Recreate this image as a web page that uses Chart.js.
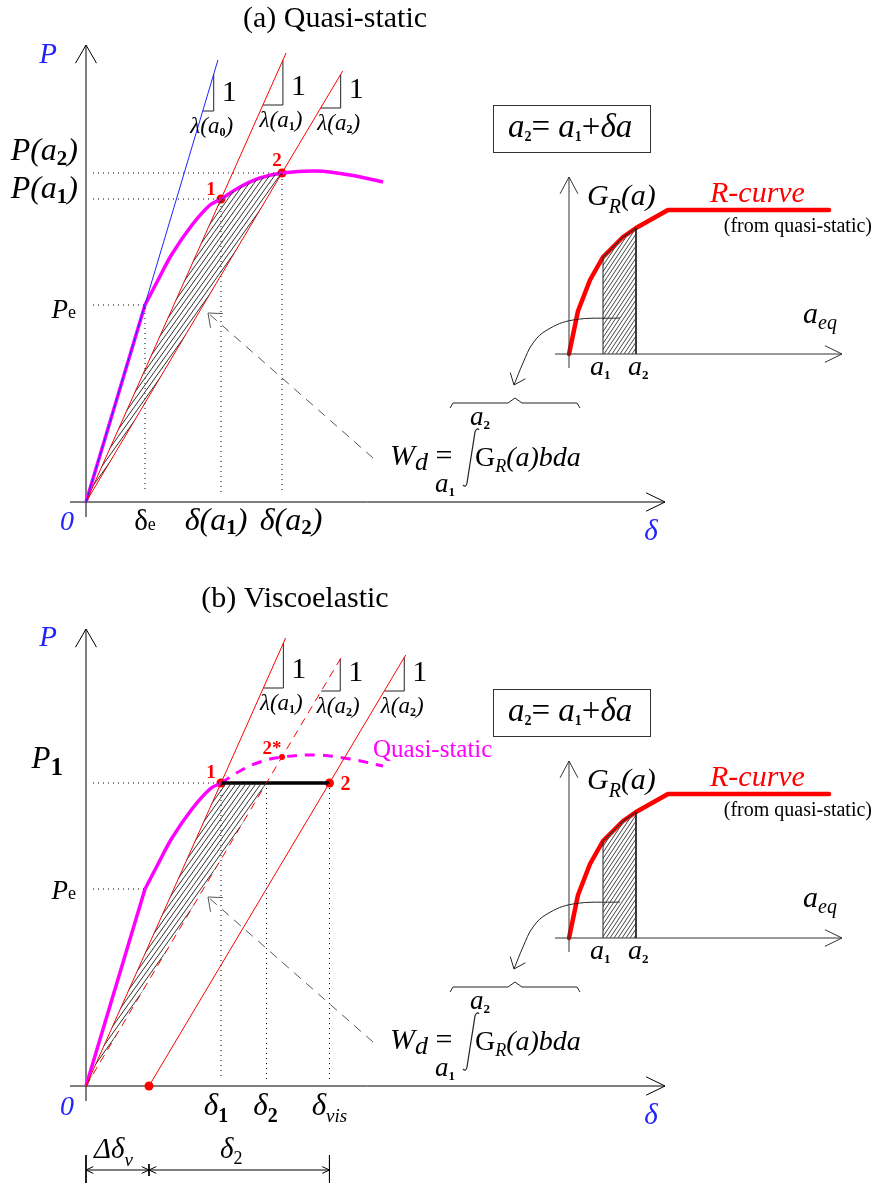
<!DOCTYPE html>
<html>
<head>
<meta charset="utf-8">
<title>Quasi-static and viscoelastic R-curve sketch</title>
<script src="https://cdn.jsdelivr.net/npm/chart.js@4.4.1/dist/chart.umd.min.js"></script>
<style>
  html, body { margin: 0; padding: 0; background: #fff; }
  body { width: 877px; height: 1184px; position: relative; overflow: hidden; }
  canvas { position: absolute; left: 0; }
  #panelA { top: 0; }
  #panelB { top: 575px; }
</style>
</head>
<body>
<canvas id="panelA" width="877" height="575"></canvas>
<canvas id="panelB" width="877" height="609"></canvas>
<script>
// ---------- values (arbitrary units) ----------
// quasi-static load-displacement curve
const qsDelta = [0, 0.59, 0.71, 0.86, 1.06, 1.24, 1.35, 1.54, 1.74, 1.96, 2.31, 2.64, 2.97];
const qsLoad  = [0, 1.97, 2.20, 2.48, 2.77, 2.97, 3.03, 3.15, 3.24, 3.29, 3.31, 3.27, 3.20];
const iPe = 1, i1 = 6, i2 = 9;   // Pe, point 1, point 2 (2*)

// unloading stiffness 1/lambda for a0, a1, a2 and where each line stops
const stiffness = [3.35, 2.244, 1.679];
const lineTopA = [4.42, 4.49, 4.31];
const lineTopB = [4.48, 4.31, 4.31];

// slope triangles: base load and horizontal leg
const triLoadA = [3.91, 3.97, 3.94];
const triRunA  = [0.11, 0.20, 0.20];
const triSubA  = ['0', '1', '2'];
const triLoadB = [3.98, 3.95, 3.95];
const triRunB  = [0.20, 0.19, 0.20];
const triSubB  = ['1', '2', '2'];

// viscoelastic shift of the last unloading line
const deltaV = 0.63;
const dimLoad = -0.84;

// axis extents of the main plots
const axisDelta = [-0.16, 5.79];
const axisLoad  = [-0.15, 4.57];
const guideStart = 0.07;
const guideEndA = 0.10, guideEndB = 0.06;

// dashed pointer from formula to hatched area
const pointerDelta = [2.87, 1.22];
const pointerLoad  = [0.44, 1.89];

// R-curve inset (a_eq, G_R)
const rcA = [0, 0.9, 2.1, 3.4, 5.4, 6.7, 9.9, 26];
const rcG = [0, 4.3, 7.4, 9.7, 11.7, 12.6, 14.4, 14.4];
const ia1 = 3, ia2 = 5;
const insetAxisA = [-1.4, 27.3];
const insetAxisG = [-1.4, 17.7];

// curved pointer and brace (inset units)
const curveA = [5.1, 0.4, -2.2, -3.6, -4.6, -5.5];
const curveG = [3.6, 3.4, 2.4, 1.1, -0.9, -3.1];
const braceA = [-11.9, -11.6, -6.1, -5.4, -4.7, 0.8, 1.1];
const braceG = [-5.4, -4.9, -4.9, -4.4, -4.9, -4.9, -5.4];

// derived points
const delta2 = qsLoad[i1] / stiffness[2];          // on dashed line a2 at P1
const deltaVis = deltaV + qsLoad[i1] / stiffness[2];

// ---------- helpers ----------
const BLUE = '#2222ff', RED = '#ff0000', MAG = '#ff00ff';
const SERIF = '"Liberation Serif", "Times New Roman", serif';
const f = (size, style) => `${style || ''} ${size}px ${SERIF}`;
const T = (t, font, dy, color) => ({ t, font, dy, color });

function rich(ctx, x, y, parts, align) {
  let w = 0;
  parts.forEach(p => { ctx.font = p.font; w += ctx.measureText(p.t).width; });
  let cx = align === 'center' ? x - w / 2 : align === 'right' ? x - w : x;
  parts.forEach(p => {
    ctx.font = p.font;
    ctx.fillStyle = p.color || '#000';
    ctx.fillText(p.t, cx, y + (p.dy || 0));
    cx += ctx.measureText(p.t).width;
  });
}

const xy = (xs, ys) => xs.map((x, i) => ({ x, y: ys[i] }));
function path(xs, ys, color, width, opts) {
  return Object.assign({
    data: xy(xs, ys), showLine: true, borderColor: color, borderWidth: width,
    pointRadius: 0, pointHoverRadius: 0, fill: false, tension: 0
  }, opts || {});
}
const inset = d => Object.assign(d, { xAxisID: 'xi', yAxisID: 'yi' });

function arrowHead(tx, ty, fx, fy, len, deg) {
  const a = Math.atan2(fy - ty, fx - tx), r = deg * Math.PI / 180;
  return [
    [tx + len * Math.cos(a + r), tx, tx + len * Math.cos(a - r)],
    [ty + len * Math.sin(a + r), ty, ty + len * Math.sin(a - r)]
  ];
}

function hatch(w, h, color, lw) {
  const c = document.createElement('canvas');
  c.width = w; c.height = h;
  const g = c.getContext('2d');
  g.strokeStyle = color; g.lineWidth = lw;
  g.beginPath();
  for (let k = -1; k <= 1; k++) { g.moveTo(k * w, h); g.lineTo(k * w + w, 0); }
  g.stroke();
  return g.createPattern(c, 'repeat');
}

// ---------- datasets ----------
function mainAxes() {
  const yh = arrowHead(0, axisLoad[1], 0, 0, 0.21, 30);
  const xh = arrowHead(axisDelta[1], 0, 0, 0, 0.21, 26);
  return [
    path([0, 0], axisLoad, '#000', 1),
    path(yh[0], yh[1], '#000', 1),
    path(axisDelta, [0, 0], '#000', 1),
    path(xh[0], xh[1], '#000', 1)
  ];
}

function pointer() {
  const h = arrowHead(pointerDelta[1], pointerLoad[1], pointerDelta[0], pointerLoad[0], 0.15, 39);
  return [
    path(pointerDelta, pointerLoad, '#555', 1, { borderDash: [9, 7] }),
    path(h[0], h[1], '#555', 1)
  ];
}

function triangles(load, run, tops) {
  return stiffness.map((k, i) => {
    const shift = tops[i];
    const d0 = shift + load[i] / k, d1 = d0 + run[i];
    return path([d0, d1, d1], [load[i], load[i], k * (d1 - shift)], '#222', 1);
  });
}

function insetDatasets(pat) {
  const hx = [rcA[ia1], ...rcA.slice(ia1, ia2 + 1), rcA[ia2]];
  const hy = [0, ...rcG.slice(ia1, ia2 + 1), 0];
  const yh = arrowHead(0, insetAxisG[1], 0, 0, 1.9, 28);
  const xh = arrowHead(insetAxisA[1], 0, 0, 0, 1.9, 26);
  const ch = arrowHead(curveA[5], curveG[5], curveA[4], curveG[4], 1.3, 39);
  return [
    inset(path(hx, hy, '#222', 1, { fill: 'shape', backgroundColor: pat })),
    inset(path([0, 0], insetAxisG, '#333', 1)),
    inset(path(yh[0], yh[1], '#333', 1)),
    inset(path(insetAxisA, [0, 0], '#333', 1)),
    inset(path(xh[0], xh[1], '#333', 1)),
    inset(path(curveA, curveG, '#222', 1, { tension: 0.4 })),
    inset(path(ch[0], ch[1], '#222', 1)),
    inset(path(braceA, braceG, '#222', 1)),
    inset(path(rcA, rcG, RED, 4.5, { borderJoinStyle: 'round', borderCapStyle: 'round' }))
  ];
}

function panelADatasets(patMain, patInset) {
  const dot = { borderDash: [1, 4] };
  const ds = [];
  ds.push(path([0, ...qsDelta.slice(i1, i2 + 1), 0], [0, ...qsLoad.slice(i1, i2 + 1), 0],
    'rgba(0,0,0,0)', 0, { fill: 'shape', backgroundColor: patMain }));
  [iPe, i1, i2].forEach(i => ds.push(path([guideStart, qsDelta[i], qsDelta[i]],
    [qsLoad[i], qsLoad[i], guideEndA], '#000', 1, dot)));
  const colors = [BLUE, RED, RED];
  stiffness.forEach((k, i) => ds.push(path([0, lineTopA[i] / k], [0, lineTopA[i]], colors[i], 1)));
  ds.push(...triangles(triLoadA, triRunA, [0, 0, 0]));
  ds.push(path(qsDelta.slice(0, iPe + 1), qsLoad.slice(0, iPe + 1), MAG, 3.5));
  ds.push(path(qsDelta.slice(iPe), qsLoad.slice(iPe), MAG, 3.5, { tension: 0.4 }));
  ds.push({ data: xy([qsDelta[i1], qsDelta[i2]], [qsLoad[i1], qsLoad[i2]]),
    pointRadius: 4.5, pointBackgroundColor: RED, pointBorderWidth: 0, showLine: false });
  ds.push(...mainAxes(), ...pointer(), ...insetDatasets(patInset));
  return ds;
}

function panelBDatasets(patMain, patInset) {
  const dot = { borderDash: [1, 4] };
  const P1 = qsLoad[i1];
  const ds = [];
  ds.push(path([0, qsDelta[i1], delta2, 0], [0, P1, P1, 0],
    'rgba(0,0,0,0)', 0, { fill: 'shape', backgroundColor: patMain }));
  ds.push(path([guideStart, qsDelta[iPe]], [qsLoad[iPe], qsLoad[iPe]], '#000', 1, dot));
  ds.push(path([guideStart, qsDelta[i1], qsDelta[i1]], [P1, P1, guideEndB], '#000', 1, dot));
  ds.push(path([delta2, delta2], [P1, guideEndB], '#000', 1, dot));
  ds.push(path([deltaVis, deltaVis], [P1, guideEndB], '#000', 1, dot));
  ds.push(path([0, lineTopB[0] / stiffness[1]], [0, lineTopB[0]], RED, 1));
  ds.push(path([0, lineTopB[1] / stiffness[2]], [0, lineTopB[1]], RED, 1, { borderDash: [8, 6] }));
  ds.push(path([deltaV, deltaV + lineTopB[2] / stiffness[2]], [0, lineTopB[2]], RED, 1));
  // triangles of panel (b): lines a1, a2 and shifted a2
  [[1, 0], [2, 0], [2, deltaV]].forEach(([k, shift], i) => {
    const s = stiffness[k], d0 = shift + triLoadB[i] / s, d1 = d0 + triRunB[i];
    ds.push(path([d0, d1, d1], [triLoadB[i], triLoadB[i], s * (d1 - shift)], '#222', 1));
  });
  ds.push(path([qsDelta[i1], deltaVis], [P1, P1], '#000', 3.5));
  ds.push(path(qsDelta.slice(0, iPe + 1), qsLoad.slice(0, iPe + 1), MAG, 3.5));
  ds.push(path(qsDelta.slice(iPe, i1 + 1), qsLoad.slice(iPe, i1 + 1), MAG, 3.5, { tension: 0.4 }));
  ds.push(path(qsDelta.slice(i1), qsLoad.slice(i1), MAG, 3, { tension: 0.4, borderDash: [10, 8] }));
  ds.push({ data: xy([qsDelta[i1], deltaVis, deltaV], [P1, P1, 0]),
    pointRadius: 4.5, pointBackgroundColor: RED, pointBorderWidth: 0, showLine: false });
  ds.push({ data: xy([qsDelta[i2]], [qsLoad[i2]]),
    pointRadius: 3, pointBackgroundColor: RED, pointBorderWidth: 0, showLine: false });
  // dimension line below the axis
  const a0 = arrowHead(0, dimLoad, deltaV, dimLoad, 0.08, 25);
  const a1 = arrowHead(deltaV, dimLoad, 0, dimLoad, 0.08, 25);
  const a2 = arrowHead(deltaV, dimLoad, deltaVis, dimLoad, 0.08, 25);
  const a3 = arrowHead(deltaVis, dimLoad, deltaV, dimLoad, 0.08, 25);
  ds.push(path([0, deltaVis], [dimLoad, dimLoad], '#000', 1));
  [a0, a1, a2, a3].forEach(a => ds.push(path(a[0], a[1], '#000', 1)));
  ds.push(path([0, 0], [dimLoad + 0.15, dimLoad - 0.13], '#000', 1));
  ds.push(path([deltaV, deltaV], [dimLoad + 0.06, dimLoad - 0.06], '#000', 1));
  ds.push(path([deltaVis, deltaVis], [dimLoad + 0.15, dimLoad - 0.13], '#000', 1));
  ds.push(...mainAxes(), ...pointer(), ...insetDatasets(patInset));
  return ds;
}

// ---------- text ----------
function insetLabels(ctx, IX, IY) {
  const it = s => f(s, 'italic');
  // a2 = a1 + delta a box
  ctx.strokeStyle = '#333'; ctx.lineWidth = 1;
  const bx = IX(-7.6), by = IY(24.9);
  ctx.strokeRect(Math.round(bx) + 0.5, Math.round(by) + 0.5, Math.round(IX(8.1) - bx), Math.round(IY(20.2) - by));
  rich(ctx, IX(-6.1), IY(21.7), [T('a', it(33)), T('2', f(14, 'bold'), 4), T('= ', f(33)),
    T('a', it(33)), T('1', f(14, 'bold'), 4), T('+', f(33)), T('δa', it(33))]);
  rich(ctx, IX(1.8), IY(14.9), [T('G', it(30)), T('R', it(20), 8), T('(a)', it(30))]);
  rich(ctx, IX(14.1), IY(15.2), [T('R-curve', it(30), 0, RED)]);
  rich(ctx, IX(30.3), IY(12.2), [T('(from quasi-static)', f(20))], 'right');
  rich(ctx, IX(23.4), IY(3.1), [T('a', it(30)), T('eq', it(20), 6)]);
  rich(ctx, IX(2.1), IY(-2.1), [T('a', it(28)), T('1', f(13, 'bold'), 4)]);
  rich(ctx, IX(5.9), IY(-2.1), [T('a', it(28)), T('2', f(13, 'bold'), 4)]);
  // W_d = integral
  rich(ctx, IX(-17.9), IY(-11.1), [T('W', it(30)), T('d', it(26), 5), T(' =', f(30))]);
  rich(ctx, IX(-9.9), IY(-7.1), [T('a', it(27)), T('2', f(13, 'bold'), 4)]);
  rich(ctx, IX(-13.4), IY(-13.8), [T('a', it(27)), T('1', f(13, 'bold'), 4)]);
  rich(ctx, IX(-9.4), IY(-11.2), [T('G', f(28)), T('R', it(18), 6), T('(a)bda', it(28))]);
  const x = IX(-10.0), top = IY(-7.4), bot = IY(-13.3);
  ctx.strokeStyle = '#222'; ctx.lineWidth = 1.2;
  ctx.beginPath();
  ctx.moveTo(x + 10, top + 2);
  ctx.quadraticCurveTo(x + 8, top - 1, x + 6, top + 4);
  ctx.lineTo(x - 2, bot - 4);
  ctx.quadraticCurveTo(x - 3, bot + 1, x - 6, bot - 2);
  ctx.stroke();
}

function triangleLabels(ctx, X, Y, legs, loads, subs) {
  legs.forEach((d, i) => {
    const lx = X(d), by = Y(loads[i]);
    rich(ctx, lx + 8, by - 10, [T('1', f(30))]);
    rich(ctx, lx - 2, by + 22, [T('λ(a', f(23, 'italic')), T(subs[i], f(12, 'bold'), 3), T(')', f(23, 'italic'))], 'center');
  });
}

function scalers(chart) {
  const s = chart.scales;
  return [v => s.x.getPixelForValue(v), v => s.y.getPixelForValue(v),
          v => s.xi.getPixelForValue(v), v => s.yi.getPixelForValue(v)];
}

function labelsA(chart) {
  const ctx = chart.ctx;
  const [X, Y, IX, IY] = scalers(chart);
  const it = s => f(s, 'italic');
  ctx.save();
  ctx.textBaseline = 'alphabetic';
  rich(ctx, 335, 27, [T('(a) Quasi-static', f(30))], 'center');
  rich(ctx, X(0) - 38, Y(axisLoad[1]) + 18, [T('P', it(29), 0, BLUE)], 'center');
  rich(ctx, X(0) - 8, Y(qsLoad[i2]) - 13, [T('P(a', it(32)), T('2', f(21, 'bold'), 5), T(')', it(32))], 'right');
  rich(ctx, X(0) - 8, Y(qsLoad[i1]) - 1, [T('P(a', it(32)), T('1', f(21, 'bold'), 5), T(')', it(32))], 'right');
  rich(ctx, X(0) - 10, Y(qsLoad[iPe]) + 13, [T('P', it(27)), T('e', f(18))], 'right');
  rich(ctx, X(0) - 19, Y(0) + 28, [T('0', it(28), 0, BLUE)], 'center');
  rich(ctx, X(qsDelta[iPe]), Y(0) + 28, [T('δ', f(29)), T('e', f(18))], 'center');
  rich(ctx, X(qsDelta[i1]) - 5, Y(0) + 28, [T('δ(a', it(32)), T('1', f(21, 'bold'), 4), T(')', it(32))], 'center');
  rich(ctx, X(qsDelta[i2]) + 9, Y(0) + 28, [T('δ(a', it(32)), T('2', f(21, 'bold'), 4), T(')', it(32))], 'center');
  rich(ctx, X(axisDelta[1]) - 14, Y(0) + 38, [T('δ', it(29), 0, BLUE)], 'center');
  rich(ctx, X(qsDelta[i1]) - 10, Y(qsLoad[i1]) - 4, [T('1', f(19, 'bold'), 0, RED)], 'center');
  rich(ctx, X(qsDelta[i2]) - 5, Y(qsLoad[i2]) - 7, [T('2', f(19, 'bold'), 0, RED)], 'center');
  const legs = stiffness.map((k, i) => triLoadA[i] / k + triRunA[i]);
  triangleLabels(ctx, X, Y, legs, triLoadA, triSubA);
  insetLabels(ctx, IX, IY);
  ctx.restore();
}

function labelsB(chart) {
  const ctx = chart.ctx;
  const [X, Y, IX, IY] = scalers(chart);
  const it = s => f(s, 'italic');
  const P1 = qsLoad[i1];
  ctx.save();
  ctx.textBaseline = 'alphabetic';
  rich(ctx, 295, 32, [T('(b) Viscoelastic', f(30))], 'center');
  rich(ctx, X(0) - 38, Y(axisLoad[1]) + 17, [T('P', it(29), 0, BLUE)], 'center');
  rich(ctx, X(0) - 23, Y(P1) - 15, [T('P', it(31)), T('1', f(25, 'bold'), 7)], 'right');
  rich(ctx, X(0) - 10, Y(qsLoad[iPe]) + 10, [T('P', it(27)), T('e', f(18))], 'right');
  rich(ctx, X(0) - 19, Y(0) + 29, [T('0', it(28), 0, BLUE)], 'center');
  rich(ctx, X(qsDelta[i1]) - 5, Y(0) + 29, [T('δ', it(31)), T('1', f(20, 'bold'), 7)], 'center');
  rich(ctx, X(delta2) - 1, Y(0) + 29, [T('δ', it(31)), T('2', f(20, 'bold'), 7)], 'center');
  rich(ctx, X(deltaVis), Y(0) + 29, [T('δ', it(31)), T('vis', it(19), 7)], 'center');
  rich(ctx, X(axisDelta[1]) - 14, Y(0) + 38, [T('δ', it(29), 0, BLUE)], 'center');
  rich(ctx, X(deltaV / 2) - 4, Y(0) + 72, [T('Δδ', it(29)), T('v', it(19), 8)], 'center');
  rich(ctx, X((deltaV + deltaVis) / 2) - 8, Y(0) + 72, [T('δ', it(29)), T('2', f(18), 6)], 'center');
  rich(ctx, X(qsDelta[i1]) - 10, Y(P1) - 5, [T('1', f(19, 'bold'), 0, RED)], 'center');
  rich(ctx, X(deltaVis) + 16, Y(P1) + 7, [T('2', f(20, 'bold'), 0, RED)], 'center');
  rich(ctx, X(qsDelta[i2]) - 10, Y(qsLoad[i2]) - 3, [T('2*', f(19, 'bold'), 0, RED)], 'center');
  rich(ctx, X(2.87), Y(qsLoad[i2]), [T('Quasi-static', f(25), 0, MAG)]);
  const ks = [stiffness[1], stiffness[2], stiffness[2]], shifts = [0, 0, deltaV];
  const legs = ks.map((k, i) => shifts[i] + triLoadB[i] / k + triRunB[i]);
  triangleLabels(ctx, X, Y, legs, triLoadB, triSubB);
  insetLabels(ctx, IX, IY);
  ctx.restore();
}

// ---------- charts ----------
function makeChart(id, h, originY, insetOriginY, datasets, draw) {
  return new Chart(document.getElementById(id), {
    type: 'scatter',
    data: { datasets },
    options: {
      responsive: false,
      animation: false,
      events: [],
      layout: { padding: 0, autoPadding: false },
      scales: {
        x:  { type: 'linear', display: false, min: -0.86, max: 7.91 },
        y:  { type: 'linear', display: false, min: (originY - h) / 100, max: originY / 100 },
        xi: { type: 'linear', axis: 'x', display: false, min: -56.9, max: 30.8 },
        yi: { type: 'linear', axis: 'y', display: false, min: (insetOriginY - h) / 10, max: insetOriginY / 10 }
      },
      plugins: { legend: { display: false }, tooltip: { enabled: false } }
    },
    plugins: [{ id: 'sketchLabels', afterDatasetsDraw: draw }]
  });
}

const patMain = hatch(5, 7, '#333', 1);
const patInset = hatch(4, 6, '#444', 1);
makeChart('panelA', 575, 502, 354, panelADatasets(patMain, patInset), labelsA);
makeChart('panelB', 609, 511, 363, panelBDatasets(patMain, patInset), labelsB);
</script>
</body>
</html>
